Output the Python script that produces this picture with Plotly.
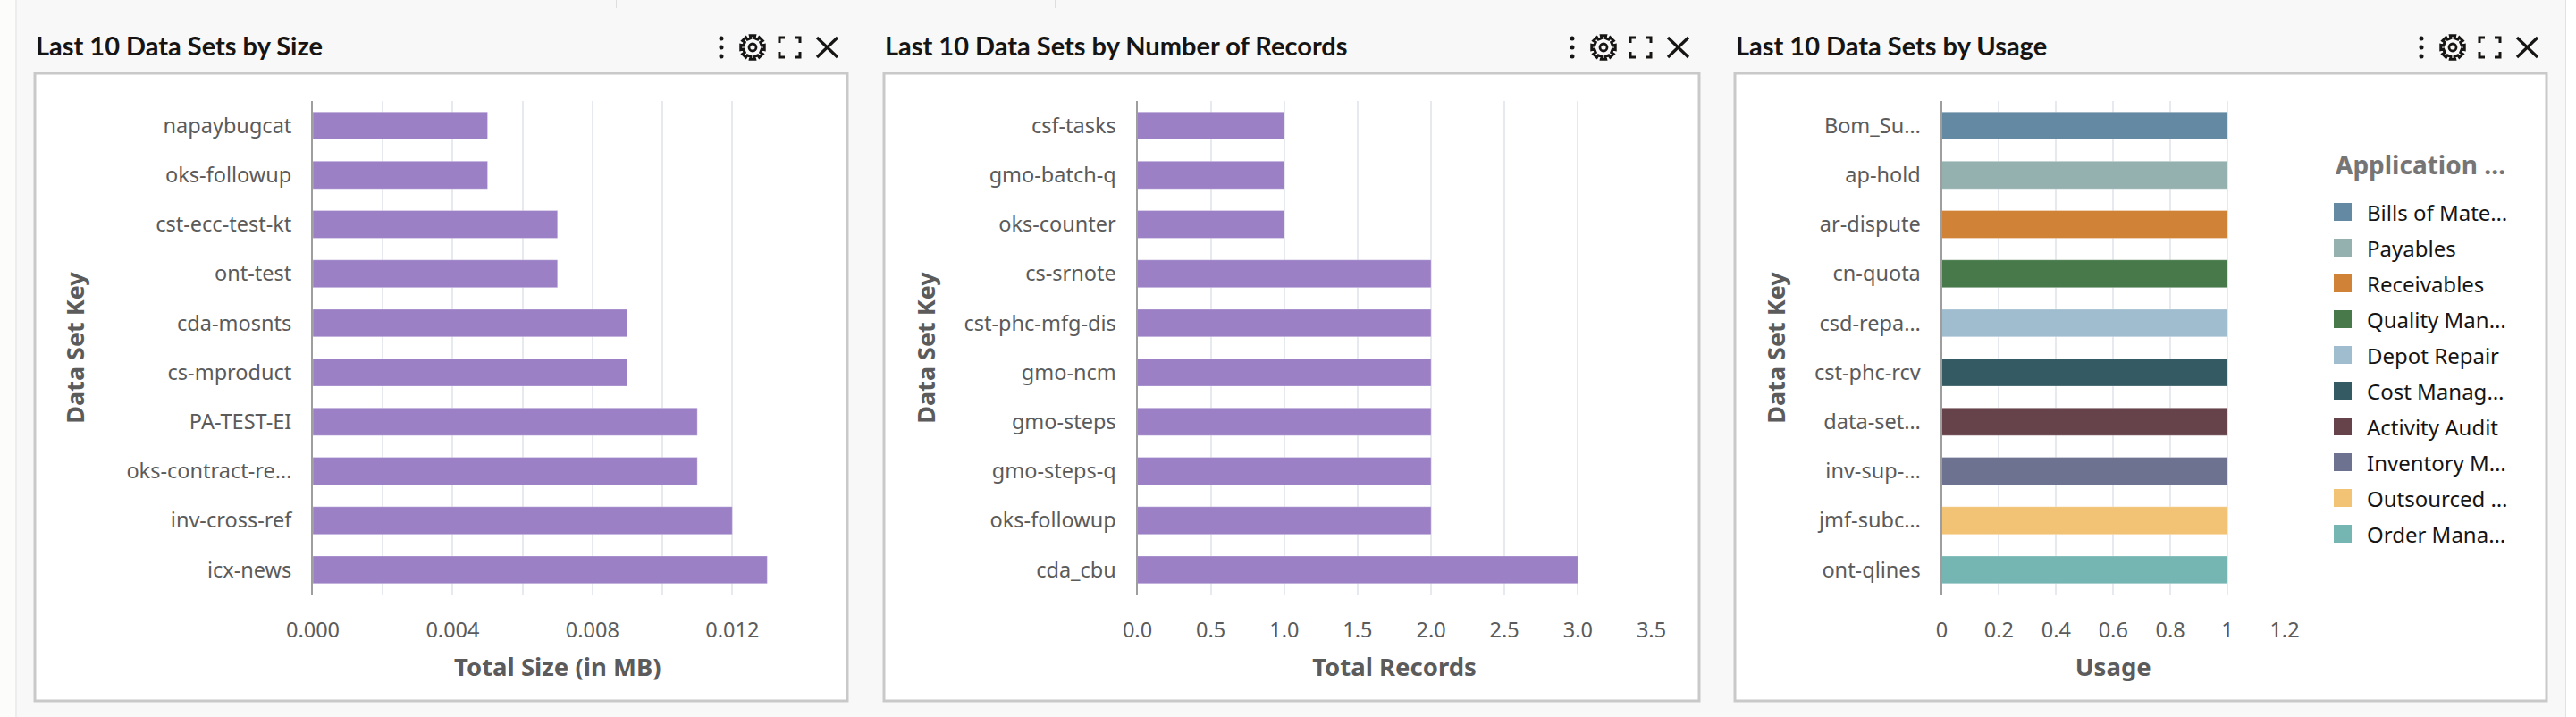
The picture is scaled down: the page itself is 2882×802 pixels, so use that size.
import math
import plotly.graph_objects as go

W, H = 2882, 802

size_keys = ["napaybugcat", "oks-followup", "cst-ecc-test-kt", "ont-test", "cda-mosnts",
             "cs-mproduct", "PA-TEST-EI", "oks-contract-re…", "inv-cross-ref", "icx-news"]
size_values = [0.005, 0.005, 0.007, 0.007, 0.009, 0.009, 0.011, 0.011, 0.012, 0.013]

record_keys = ["csf-tasks", "gmo-batch-q", "oks-counter", "cs-srnote", "cst-phc-mfg-dis",
               "gmo-ncm", "gmo-steps", "gmo-steps-q", "oks-followup", "cda_cbu"]
record_values = [1, 1, 1, 2, 2, 2, 2, 2, 2, 3]

usage_keys = ["Bom_Su…", "ap-hold", "ar-dispute", "cn-quota", "csd-repa…",
              "cst-phc-rcv", "data-set…", "inv-sup-…", "jmf-subc…", "ont-qlines"]
usage_values = [1, 1, 1, 1, 1, 1, 1, 1, 1, 1]
usage_apps = ["Bills of Mate…", "Payables", "Receivables", "Quality Man…", "Depot Repair",
              "Cost Manag…", "Activity Audit", "Inventory M…", "Outsourced …", "Order Mana…"]
usage_colors = ["#648aa3", "#95b1af", "#d08336", "#47794b", "#9fbdce",
                "#345b63", "#66424b", "#6d7291", "#f2c375", "#76b6b2"]
PURPLE = "#9b80c6"

titles = ["Last 10 Data Sets by Size", "Last 10 Data Sets by Number of Records", "Last 10 Data Sets by Usage"]
x_titles = ["Total Size (in MB)", "Total Records", "Usage"]

# layout constants (pixels)
PLOT_TOP, PLOT_BOTTOM = 113, 665
panels = [(39, 948), (989, 1901), (1941, 2849)]
plots = [(350, 897.5), (1272.5, 1847.5), (2172.5, 2556)]
ICON_DX = [0, 952, 1902]
Y_TITLE_STANDOFF = [39, 24, 24]

LABEL = "Noto Sans"
TITLE = "Lato"
GREY = "#5b5b5b"
GRID = "#e6e9ed"
BG = "#f8f8f8"

def fx(p): return p / W
def fy(p): return 1 - p / H

fig = go.Figure()

def add_bar(keys, values, colors, axis):
    fig.add_trace(go.Bar(
        y=keys, x=values, orientation="h", width=0.56,
        marker=dict(color=colors, line=dict(color="rgba(255,255,255,0.3)", width=1)),
        xaxis=f"x{axis}", yaxis=f"y{axis}", showlegend=False,
    ))

add_bar(size_keys, size_values, PURPLE, "")
add_bar(record_keys, record_values, PURPLE, "2")
add_bar(usage_keys, usage_values, usage_colors, "3")

x_cfg = [
    dict(range=[0, 0.014], dtick=0.004, tick0=0, tickformat=".3f",
         minor=dict(dtick=0.002, showgrid=True, gridcolor=GRID, gridwidth=2, ticks="")),
    dict(range=[0, 3.5], dtick=0.5, tick0=0, tickformat=".1f"),
    dict(range=[0, 1.2], dtick=0.2, tick0=0),
]
layout = {}
for i in range(3):
    s = "" if i == 0 else str(i + 1)
    layout[f"xaxis{s}"] = dict(
        domain=[fx(plots[i][0]), fx(plots[i][1])], anchor=f"y{s}", automargin=False,
        showgrid=True, gridcolor=GRID, gridwidth=2, zeroline=False, showline=False,
        ticks="", ticklabelstandoff=23,
        tickfont=dict(family=LABEL, size=23.5, color=GREY),
        title=dict(text=f"<b>{x_titles[i]}</b>", standoff=18,
                   font=dict(family=LABEL, size=27.5, color=GREY)),
        **x_cfg[i])
    layout[f"yaxis{s}"] = dict(
        domain=[fy(PLOT_BOTTOM), fy(PLOT_TOP)], anchor=f"x{s}", automargin=False,
        autorange="reversed", type="category",
        showgrid=False, zeroline=False, showline=True, linecolor="#9e9e9e", linewidth=2,
        ticks="", ticklabelstandoff=17,
        tickfont=dict(family=LABEL, size=23.5, color=GREY),
        title=dict(text="<b>Data Set Key</b>", standoff=Y_TITLE_STANDOFF[i],
                   font=dict(family=LABEL, size=27, color=GREY)))

shapes, annos = [], []

def rect(x0, y0, x1, y1, fill, line=None, lw=0, layer="below"):
    shapes.append(dict(type="rect", xref="paper", yref="paper",
                       x0=fx(x0), x1=fx(x1), y0=fy(y0), y1=fy(y1),
                       fillcolor=fill, line=dict(color=line or fill, width=lw), layer=layer))

def path(points, close=False, color="#161513", lw=3):
    d = "M" + " L".join(f"{fx(a):.6f},{fy(b):.6f}" for a, b in points) + (" Z" if close else "")
    shapes.append(dict(type="path", xref="paper", yref="paper", path=d, line=dict(color=color, width=lw)))

# page furniture
rect(0, 0, 17, H, "#fcfcfb")
rect(2870, 0, W, H, "#ffffff")
for xp in (17.5, 2870):
    rect(xp, 0, xp + 1, H, "#e2e2e2")
for xp in (362, 689, 1180):
    rect(xp, 0, xp + 1, 9, "#dedede")

for i, (l, r) in enumerate(panels):
    rect(l, 82, r, 784, "#ffffff", "#c9c9c9", 3)
    annos.append(dict(text=f"<b>{titles[i]}</b>", xref="paper", yref="paper", x=fx(l - 1), y=fy(50),
                      xanchor="left", yanchor="middle", showarrow=False,
                      font=dict(family=TITLE, size=29, color="#161513")))
    dx = ICON_DX[i]
    # menu dots
    for yd in (43, 53, 63):
        shapes.append(dict(type="circle", xref="paper", yref="paper",
                           x0=fx(807 + dx - 2.5), x1=fx(807 + dx + 2.5),
                           y0=fy(yd - 2.5), y1=fy(yd + 2.5),
                           fillcolor="#161513", line=dict(width=0)))
    # gear
    cx, cy = 842 + dx, 53
    pts = []
    teeth = 8
    for t in range(teeth):
        a = 2 * math.pi * t / teeth
        for off, rad in ((-0.2, 10.5), (-0.2, 13.5), (0.2, 13.5), (0.2, 10.5)):
            pts.append((cx + rad * math.cos(a + off), cy + rad * math.sin(a + off)))
    path(pts, close=True, lw=3)
    shapes.append(dict(type="circle", xref="paper", yref="paper",
                       x0=fx(cx - 4), x1=fx(cx + 4), y0=fy(cy - 4), y1=fy(cy + 4),
                       line=dict(color="#161513", width=2.8)))
    # expand brackets
    x0, x1, y0, y1, c = 872 + dx, 895 + dx, 42, 64, 6
    path([(x0, y0 + c), (x0, y0), (x0 + c, y0)])
    path([(x1 - c, y0), (x1, y0), (x1, y0 + c)])
    path([(x0, y1 - c), (x0, y1), (x0 + c, y1)])
    path([(x1 - c, y1), (x1, y1), (x1, y1 - c)])
    # close
    path([(914 + dx, 42), (937 + dx, 64)], lw=3.2)
    path([(937 + dx, 42), (914 + dx, 64)], lw=3.2)

# legend of the usage panel
annos.append(dict(text="<b>Application …</b>", xref="paper", yref="paper", x=fx(2611), y=fy(184),
                  xanchor="left", yanchor="middle", showarrow=False,
                  font=dict(family=LABEL, size=28, color="#757575")))
for k, (name, col) in enumerate(zip(usage_apps, usage_colors)):
    top = 227 + 40 * k
    rect(2611, top, 2631, top + 20, col, layer="above")
    annos.append(dict(text=name, xref="paper", yref="paper", x=fx(2646), y=fy(top + 10),
                      xanchor="left", yanchor="middle", showarrow=False,
                      font=dict(family=LABEL, size=24, color="#161513")))

fig.update_layout(
    width=W, height=H, margin=dict(l=0, r=0, t=0, b=0),
    paper_bgcolor=BG, plot_bgcolor="rgba(0,0,0,0)", showlegend=False,
    shapes=shapes, annotations=annos, bargap=0.44, **layout,
)
fig.write_html("out.html", post_script="document.body.style.margin='0';document.documentElement.style.overflow='hidden';",
               config={"displayModeBar": False})
